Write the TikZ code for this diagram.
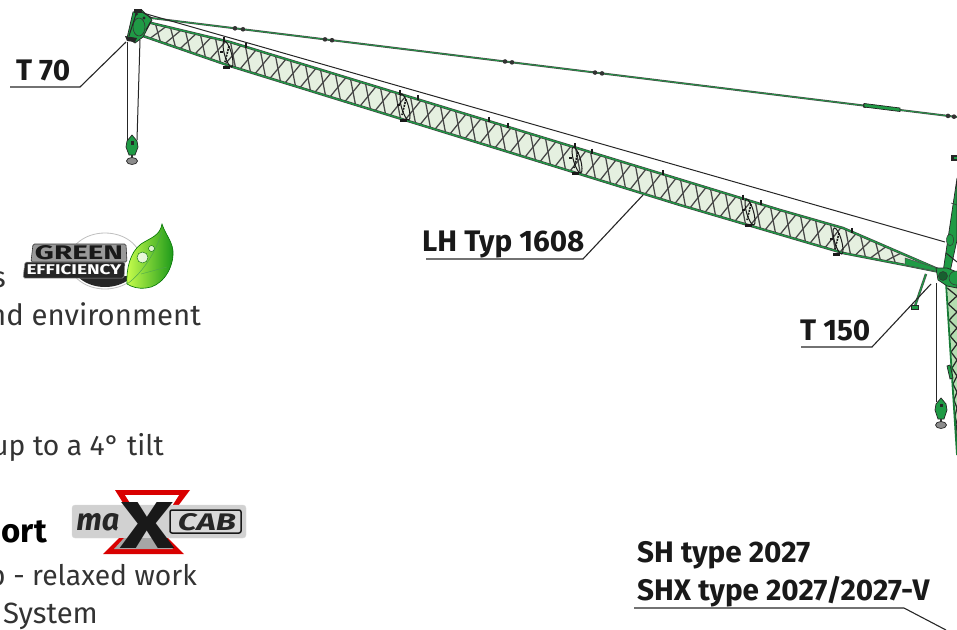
\documentclass[tikz,border=0pt]{standalone}
\usepackage{graphicx}
\usepackage{fontspec}
\setmainfont{Fira Sans}
\usetikzlibrary{shapes.geometric}
\definecolor{cgreen}{HTML}{1F9A45}
\definecolor{cdark}{HTML}{17602F}
\definecolor{cpanel}{HTML}{E5F0E0}
\definecolor{cmast}{HTML}{B5DDB0}
\definecolor{ctext}{HTML}{333333}
\tikzset{
  lbl/.style={anchor=base west,inner sep=0pt,font=\bfseries\fontsize{29.7}{30}\selectfont,text=black!90},
  body/.style={anchor=base east,inner sep=0pt,font=\fontsize{29.3}{30}\selectfont,text=ctext},
  bodyn/.style={body,font=\fontsize{28.3}{30}\selectfont},
  leader/.style={draw=black!85,line width=1.1pt},
  cable/.style={draw=black!85,line width=1pt},
  lace/.style={draw=black!72,line width=1.25pt},
  chordo/.style={draw=black!75,line width=2.5pt},
  chordi/.style={draw=cgreen,line width=1.3pt},
  greenpart/.style={fill=cgreen,draw=black!85,line width=.7pt},
  joint/.style={fill=black!80,draw=none},
  frameoval/.style={draw=black!90,line width=1pt,ellipse,minimum width=7pt,minimum height=27pt,inner sep=0pt,rotate=16},
}
\begin{document}
\begin{tikzpicture}[x=1pt,y=-1pt,
  declare function={
    ty(\x)=(\x<230)?(22+(\x-147)*0.241):((\x<780)?(42+(\x-230)*0.3055):((\x<843)?(210+(\x-780)*0.286):(228+(\x-843)*0.433)));
    by(\x)=(\x<230)?(36+(\x-143)*0.345):((\x<680)?(66+(\x-230)*0.3089):((\x<843)?(205+(\x-680)*0.2945):(253+(\x-843)*0.196)));
  }]
\useasboundingbox (0,0) rectangle (957,629);
\clip (0,0) rectangle (957,629);
% boom panel
\fill[cpanel] (147,22) -- (230,42) -- (780,210) -- (843,228) -- (940,270) -- (940,272) -- (843,253) -- (680,205) -- (230,66) -- (143,36) -- cycle;
% lacing: two crossing families
\foreach \x in {150,165,...,895}{
  \pgfmathsetmacro{\xa}{\x+16}\pgfmathsetmacro{\xc}{\x+5.5}\pgfmathsetmacro{\xb}{\x+10.5}
  \pgfmathsetmacro{\ya}{by(\x)}\pgfmathsetmacro{\yb}{ty(\xa)}
  \pgfmathsetmacro{\yc}{ty(\xc)}\pgfmathsetmacro{\yd}{by(\xb)}
  \draw[lace] (\x,\ya) -- (\xa,\yb);
  \draw[lace] (\xc,\yc) -- (\xb,\yd);
}
% chords
\foreach \s in {chordo,chordi}{
  \draw[\s] (147,22) -- (230,42) -- (780,210) -- (843,228) -- (940,270);
  \draw[\s] (143,36) -- (230,66) -- (680,205) -- (843,253) -- (905,265) -- (940,272);
}
\fill[cgreen,draw=black!70,line width=.5pt] (905,258) -- (940,269) -- (940,272) -- (905,265) -- cycle;
% frames
\foreach \n/\x/\y in {fa/228/54,fb/405/107,fc/577/160,fd/750/212,fe/838/241}{
  \node[frameoval] (\n) at (\x,\y) {};
  \draw[black!90,line width=1.6pt,dash pattern=on 2pt off 1pt] (\x+1,\y-8) -- (\x-3,\y+8);
  \fill[black!90] (\x-8,\y-3) rectangle (\x-5,\y-1);
  \fill[black!90] (\x-5,\y+12) rectangle (\x+2,\y+14.5);
}
% chord ticks
\foreach \x in {224,246,400,418,489,508,575,592,663,743,761,852}{
  \pgfmathsetmacro{\y}{ty(\x)}
  \draw[black!90,line width=1.3pt] (\x,\y-4) -- (\x,\y+1);
}
% pendant
\draw[draw=black!70,line width=2pt] (143,17) -- (957,117);
\draw[draw=cgreen,line width=.8pt] (143,17) -- (957,117);
\foreach \x in {235,243,325,332,505,512,595,602,865,948,954}{
  \pgfmathsetmacro{\y}{17+(\x-143)*0.1229}
  \fill[joint] (\x,\y) circle (2.3pt);
}
\draw[greenpart] (864,103.5) -- (900,108) -- (900,111.5) -- (864,107) -- cycle;
% top cable
\draw[cable] (143,13) -- (945,242);
% T70 head
\draw[greenpart] (127,38) -- (133,12) -- (142,10) -- (152,20) -- (143,37) -- (135,43) -- cycle;
\draw[fill=cgreen,draw=black!80,line width=.6pt] (139,27) ellipse (6pt and 9pt);
\fill[black!85] (125,36) -- (137,38) -- (135,42) -- (127,41) -- cycle;
\fill[black!85] (134,9) rectangle (142,13);
\draw[black!85,line width=1pt] (129,36) -- (136,14);
\draw[black!85,line width=1pt] (146,30) -- (151,21);
\draw[black!85,line width=1pt] (142,12) -- (152,18);
\fill[black!85] (136.5,14) circle (1.6pt);
\fill[black!85] (144,18) circle (1.6pt);
% hoist ropes left
\draw[cable] (127,42) -- (127,140);
\draw[cable] (140,40) -- (137,140);
% left hook
\draw[greenpart] (132,135) -- (137,141) -- (138,147) -- (135,155) -- (129,155) -- (126,147) -- (127,141) -- cycle;
\fill[black!85] (130.5,141) rectangle (134,145);
\draw[fill=black!45,draw=black!85,line width=.7pt] (132,161) ellipse (5.5pt and 3.5pt);
\draw[black!80,line width=1.2pt] (132,155) -- (132,158);
% mast
\draw[greenpart] (943,272) -- (957,178) -- (957,240) -- (950,272) -- cycle;
\fill[black!85] (951,155) rectangle (957,161);
\fill[cgreen] (954,157) rectangle (957,159);
\draw[black!80,line width=.6pt] (951,203) -- (957,205);
\draw[fill=cgreen,draw=black!80,line width=.5pt] (950,240) ellipse (3.5pt and 6pt);
\draw[black!85,line width=1pt] (946,253) -- (957,262);
% tower
\fill[cmast] (947,285) -- (957,285) -- (957,450) -- cycle;
\foreach \y in {288,304,...,440}{
  \pgfmathsetmacro{\xl}{947+(\y-285)*0.06}
  \draw[lace,draw=black!85] (\xl,\y) -- (957,\y+8);
  \draw[lace,draw=black!85] (957,\y+8) -- (\xl+1,\y+16);
}
\draw[draw=cgreen!80!black,line width=1.8pt] (946,283) -- (957,455);
\draw[greenpart] (947,366) -- (950,365) -- (953,378) -- (950,379) -- cycle;
% slew head
\draw[greenpart] (936,268) -- (947,268) -- (957,272) -- (957,288) -- (947,286) -- (938,280) -- cycle;
\draw[fill=cgreen,draw=black!80,line width=.5pt] (956,278) circle (7pt);
\draw[fill=cdark,draw=black!80,line width=.5pt] (943,276) circle (4.5pt);
% T150 strut
\draw[draw=black!70,line width=2.4pt] (926,274) -- (915,306);
\draw[draw=cgreen,line width=1.2pt] (926,274) -- (915,306);
\draw[greenpart] (911,305) rectangle (918,309.5);
% right hook rope
\draw[cable] (936,283) -- (936,402);
\draw[greenpart] (941,398) -- (946,404) -- (947,410) -- (944,419) -- (938,419) -- (935,410) -- (936,404) -- cycle;
\fill[black!85] (939.5,404) rectangle (942.5,407);
\draw[black!80,line width=1.2pt] (941,419) -- (941,422);
\draw[fill=black!45,draw=black!85,line width=.7pt] (941,425) ellipse (5.5pt and 3.5pt);
% labels
\node[lbl] (t70) at (16,80) {T 70};
\draw[leader] (10,87) -- (80,87) -- (126,42);
\node[lbl] (lh) at (422,251) {LH Typ 1608};
\draw[leader] (426,259) -- (583,259) -- (643,195);
\node[lbl] (t150) at (800,340) {T 150};
\draw[leader] (801,347) -- (872,347) -- (931,284);
\node[lbl] (sh) at (637,562) {SH type 2027};
\node[lbl] (shx) at (637,600) {SHX type 2027/2027-V};
\draw[leader] (634,608) -- (904,608) -- (946,630);
% body text
\node[body] (b1) at (6,287) {s};
\node[body] (b2) at (201,325) {nd environment};
\node[bodyn] (b3) at (164,455) {up to a 4° tilt};
\node[body,font=\bfseries\fontsize{33}{33}\selectfont,text=black] (b4) at (47,542) {ort};
\node[bodyn] (b5) at (197,585) {p - relaxed work};
\node[body] (b6) at (98,623) {System};
% Green Efficiency logo
\draw[draw=black!25,line width=.8pt,fill=white] (105,261) ellipse (36pt and 28pt);
\begin{scope}
  \clip (60,276) rectangle (160,292);
  \fill[black!85] (105,261) ellipse (34pt and 26pt);
\end{scope}
\draw[fill=black!40,draw=black!80,rounded corners=1.5pt,line width=.6pt] (33,244) -- (126,244) -- (127,262) -- (31,262) -- cycle;
\draw[fill=black!85,draw=black!40,rounded corners=1.5pt,line width=.5pt] (25,262) -- (125,262) -- (124,278) -- (23,278) -- cycle;
\node[inner sep=0pt,text=black!90] (ge1) at (79,253) {\resizebox{88pt}{14pt}{\bfseries GREEN}};
\node[inner sep=0pt,text=white] (ge2) at (74,270) {\resizebox{95pt}{10pt}{\bfseries EFFICIENCY}};
\shade[left color=green!30!yellow!70!white,right color=green!55!black!90,draw=green!45!black,line width=.6pt]
  (162,224) .. controls (166,236) and (174,243) .. (173,255) .. controls (172,272) and (160,287) .. (146,288) .. controls (138,289) and (132,287) .. (127,284) .. controls (126,270) and (130,252) .. (141,244) .. controls (150,238) and (160,236) .. (162,224) -- cycle;
\draw[green!50!black!70,line width=.5pt] (127,284) .. controls (140,275) and (155,255) .. (162,232);
\draw[green!50!black!70,line width=.4pt] (141,274) -- (167,267);
\draw[fill=white,draw=green!40!black,line width=.4pt,fill opacity=.8] (142.5,257.5) circle (5.5pt);
\draw[fill=white,draw=green!40!black,line width=.4pt,fill opacity=.8] (151.5,248.5) circle (3pt);
% MaxCab logo
\fill[red!85!black] (115,490) -- (190,490) -- (178,506) -- (125,506) -- cycle;
\fill[white] (125,495) -- (179,495) -- (172,506) -- (132,506) -- cycle;
\draw[draw=black!15,fill=black!18,rounded corners=3pt] (72,505) rectangle (246,538);
\fill[red!85!black] (119,538) -- (168,538) -- (184,554) -- (103,554) -- cycle;
\fill[black!35] (124,538) -- (163,538) -- (173,549) -- (114,549) -- cycle;
\draw[fill=black!15,draw=black!90,line width=1.5pt,rounded corners=2pt] (170,510) rectangle (241,533);
\node[inner sep=0pt,text=black!85] (mc1) at (98,522) {\resizebox{43pt}{17pt}{\bfseries\itshape ma}};
\node[inner sep=0pt,text=black!85] (mc2) at (207,522) {\resizebox{58pt}{17pt}{\bfseries\itshape CAB}};
\node[inner sep=0pt,text=black!90] (mc3) at (148,525) {\resizebox{54pt}{46pt}{\bfseries X}};
\end{tikzpicture}
\end{document}
